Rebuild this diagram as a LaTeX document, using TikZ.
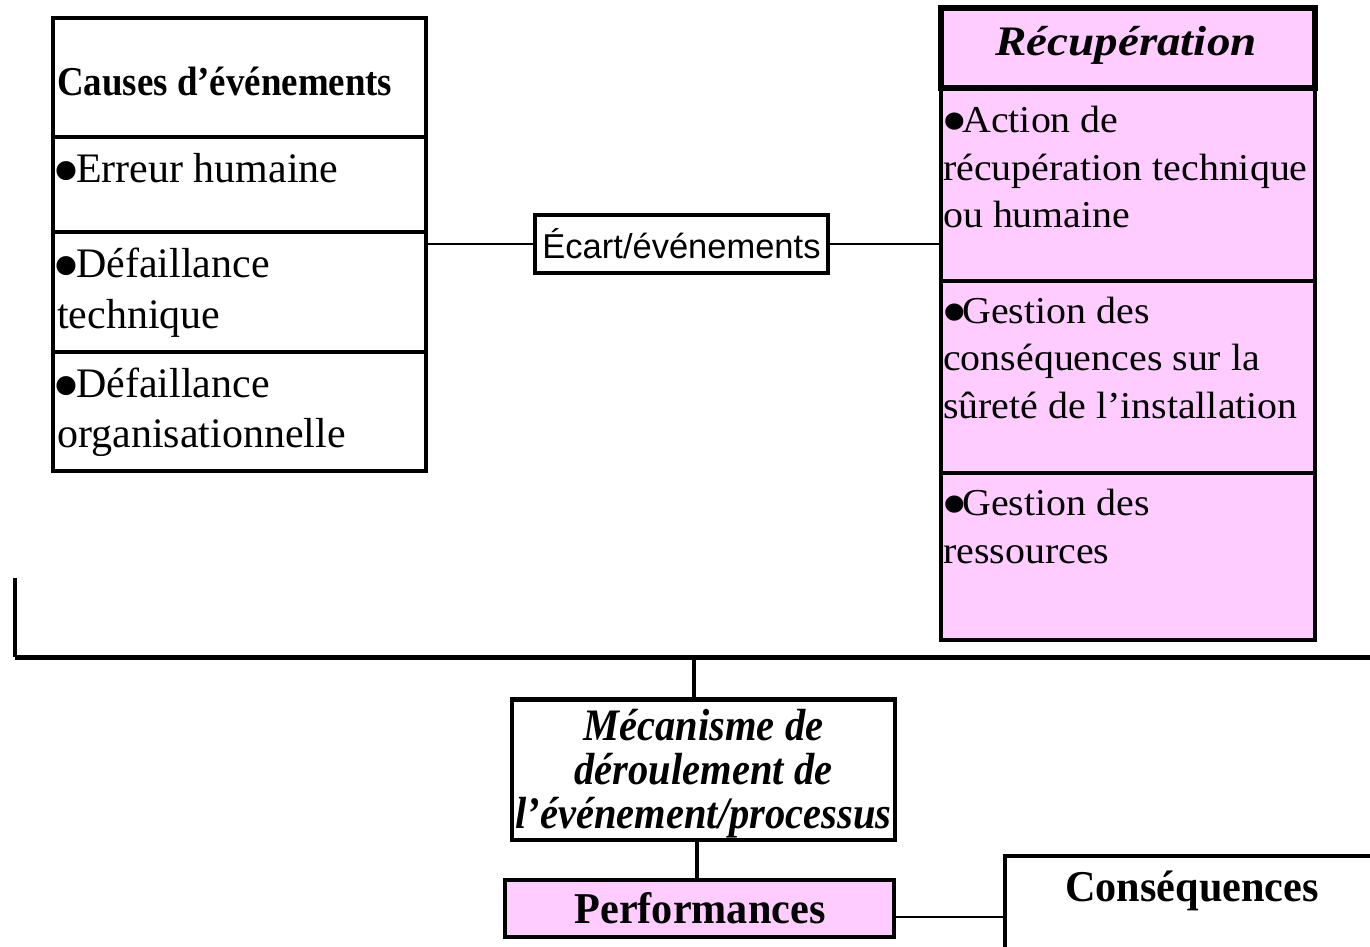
\documentclass[tikz,border=0pt]{standalone}
\usepackage{graphicx}
\usepackage{fontspec}
\setmainfont{Liberation Serif}
\newfontfamily\headfont{Liberation Serif}[FakeStretch=0.9]
\newfontfamily\recfont{Liberation Serif}[FakeStretch=1.12]
\newfontfamily\rightfont{Liberation Serif}[FakeStretch=1.05]
\newfontfamily\mechfont{Liberation Serif}[FakeStretch=0.9]
\newfontfamily\boldwide{Liberation Serif}[FakeStretch=0.96]
\newfontfamily\ecartfont{Liberation Sans}
\definecolor{rose}{RGB}{255,204,255}
% enlarged bullet for the list items
\newcommand{\bul}{\makebox[0.45em][l]{\hspace{-0.1em}\smash{\raisebox{-0.36em}{\scalebox{1.9}{•}}}}}

\begin{document}
\begin{tikzpicture}[x=1pt,y=-1pt,
  cell/.style={draw, line width=4.5pt, anchor=north west, inner sep=0pt, outer sep=0pt},
  pinkcell/.style={cell, fill=rose},
  lefttxt/.style={anchor=base west, inner sep=0pt, font=\fontsize{42}{50}\selectfont},
  righttxt/.style={anchor=base west, inner sep=0pt, font=\rightfont\fontsize{38}{47}\selectfont},
  mechtxt/.style={anchor=base, inner sep=0pt, font=\mechfont\bfseries\itshape\fontsize{45}{44}\selectfont},
  thin/.style={line width=2.5pt},
  mid/.style={line width=3.5pt},
  thick/.style={line width=5pt}]

\useasboundingbox (0,0) rectangle (1370,947);
\fill[white] (0,0) rectangle (1370,947);
\clip (0,0) rectangle (1370,947);

% Causes column
\node[cell, minimum width=373pt, minimum height=119pt] (c1) at (53,18) {};
\node[cell, minimum width=373pt, minimum height=95pt]  (c2) at (53,137) {};
\node[cell, minimum width=373pt, minimum height=120pt] (c3) at (53,232) {};
\node[cell, minimum width=373pt, minimum height=119pt] (c4) at (53,352) {};

\node[anchor=base west, inner sep=0pt, font=\headfont\bfseries\fontsize{41}{48}\selectfont] (tc1) at (57,96) {Causes d’événements};
\node[lefttxt] (tc2) at (57,182) {\bul Erreur humaine};
\node[lefttxt] (tc3a) at (57,277) {\bul Défaillance};
\node[lefttxt] (tc3b) at (57,328) {technique};
\node[lefttxt] (tc4a) at (57,397) {\bul Défaillance};
\node[lefttxt] (tc4b) at (57,447) {organisationnelle};

% Recovery column
\node[pinkcell, minimum width=374pt, minimum height=193pt] (r1) at (941,88) {};
\node[pinkcell, minimum width=374pt, minimum height=192pt] (r2) at (941,281) {};
\node[pinkcell, minimum width=374pt, minimum height=167pt] (r3) at (941,473) {};
\node[pinkcell, line width=5.5pt, minimum width=374pt, minimum height=80pt] (r0) at (941,8) {};

\node[anchor=base, inner sep=0pt, font=\recfont\bfseries\itshape\fontsize{42}{48}\selectfont] (tr0) at (1126,56) {Récupération};
\node[righttxt] (tr1a) at (945,132) {\bul Action de};
\node[righttxt] (tr1b) at (943,180) {récupération technique};
\node[righttxt] (tr1c) at (943,227) {ou humaine};
\node[righttxt] (tr2a) at (945,323) {\bul Gestion des};
\node[righttxt] (tr2b) at (943,370) {conséquences sur la};
\node[righttxt] (tr2c) at (943,418) {sûreté de l’installation};
\node[righttxt] (tr3a) at (945,515) {\bul Gestion des};
\node[righttxt] (tr3b) at (943,563) {ressources};

% Deviation box between the two columns
\node[cell, minimum width=293pt, minimum height=58pt, font=\ecartfont\fontsize{34.5}{40}\selectfont] (ecart) at (535,215) {Écart/événements};
\draw[thin] (ecart.west) -- (ecart.west -| c3.east);
\draw[thin] (ecart.east) -- (ecart.east -| r1.west);

% Bus line
\coordinate (busL) at (15,578);
\coordinate (busC) at (15,657);
\coordinate (busR) at (1375,657);
\coordinate (busJ) at (694,657);
\draw[mid] (busL) -- (busC);
\draw[thick] (busC) -- (busR);

% Mechanism and performance
\node[cell, minimum width=383pt, minimum height=140.5pt] (mech) at (512,699.5) {};
\node[mechtxt] (tm1) at (703.5,740) {Mécanisme de};
\node[mechtxt] (tm2) at (703.5,784) {déroulement de};
\node[mechtxt] (tm3) at (703.5,828) {l’événement/processus};
\draw[mid] (busJ) -- (busJ |- mech.north);

\node[pinkcell, minimum width=389pt, minimum height=57pt] (perf) at (505,880) {};
\node[anchor=base, inner sep=0pt, font=\boldwide\bfseries\fontsize{44}{48}\selectfont] (tp) at (700,923) {Performances};
\coordinate (mj) at (697,840);
\draw[mid] (mech.south -| mj) -- (perf.north -| mj);

% Consequences
\node[cell, minimum width=500pt, minimum height=200pt] (cons) at (1005,856) {};
\node[anchor=base, inner sep=0pt, font=\boldwide\bfseries\fontsize{44}{48}\selectfont] (tq) at (1192,901) {Conséquences};
\coordinate (pe) at ([yshift=-8.5pt]perf.east);
\draw[thin] (pe) -- (pe -| cons.west);

\end{tikzpicture}
\end{document}
